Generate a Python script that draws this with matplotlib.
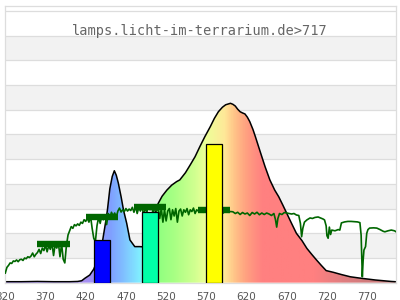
import numpy as np
import matplotlib
matplotlib.use("Agg")
import matplotlib.pyplot as plt
from matplotlib.patches import Polygon
from matplotlib.colors import LinearSegmentedColormap, Normalize

# ---- lamp spectrum (black outline, rainbow fill) ----
spec_nm = [320, 340, 360, 380, 400, 410, 415, 419, 425, 430, 435, 440, 445, 447,
           450, 453, 455.6, 458, 460.5, 464, 467, 471, 475, 481, 487, 492, 497,
           502, 506, 510, 515, 521, 527, 533, 537, 544, 550, 556, 562, 568, 575,
           580, 585, 590, 594, 600, 603, 606, 609, 612, 615, 618, 621, 624, 628,
           631, 637, 643, 649, 655, 660, 665, 670, 676, 682, 689, 695, 701, 707,
           713, 719, 728, 738, 749, 760, 770, 780, 790, 800, 805]
spec_val = [0.04, 0.04, 0.05, 0.04, 0.04, 0.05, 0.08, 0.18, 0.31, 0.55, 0.95, 1.5, 2.5, 2.94,
            3.8, 4.3, 4.53, 4.35, 4.04, 3.48, 2.94, 2.4, 1.73, 1.46, 1.46, 1.45, 1.7,
            2.2, 2.75, 3.2, 3.5, 3.75, 3.95, 4.09, 4.16, 4.45, 4.77, 5.1, 5.51, 5.9, 6.32,
            6.65, 6.92, 7.1, 7.2, 7.26, 7.22, 7.15, 7.02, 6.92, 6.87, 6.83, 6.7, 6.52, 6.2,
            5.91, 5.3, 4.7, 4.16, 3.75, 3.48, 3.15, 2.81, 2.4, 2.0, 1.7, 1.39, 1.15, 0.92,
            0.7, 0.49, 0.42, 0.33, 0.24, 0.19, 0.15, 0.11, 0.08, 0.05, 0.04]

# ---- reference (sun) curve, dark green ----
ref_nm = [320, 322, 324, 326, 328, 330, 332, 334, 336, 338, 340, 342, 344, 346, 348,
          350, 352, 354, 356, 358, 360, 362, 364, 366, 368, 370, 372, 374, 376, 378,
          380, 382, 384, 386, 388, 390, 392, 394, 396, 398, 400, 402, 404, 406, 408,
          410, 412, 414, 416, 418, 420, 422, 424, 426, 428, 430, 432, 434, 436, 438,
          440, 442, 444, 446, 448, 450, 452, 454, 456, 458, 460, 462, 464, 466, 468,
          470, 472, 474, 476, 478, 480, 482, 484, 486, 488, 490, 492, 494, 496, 498,
          500, 502, 504, 506, 508, 510, 512, 514, 516, 518, 520, 522, 524, 526, 528,
          530, 532, 534, 536, 538, 540, 542, 544, 546, 548, 550, 552, 554, 556, 558,
          560, 562, 566, 570, 574, 578, 582, 586, 590, 594, 598, 600, 603, 606, 609,
          612, 615, 618, 621, 624, 627, 630, 633, 636, 639, 642, 645, 648, 651, 654,
          656, 657.5, 659, 661, 664, 667, 670, 673, 676, 679, 682, 685, 687, 688.5, 690,
          692, 695, 697, 699, 702, 705, 709, 712, 715, 717, 719, 720, 721.5, 723, 724.5,
          726, 730, 734, 736, 738, 742, 746, 750, 754, 758, 761, 762.5, 764, 765, 766,
          768, 769.5, 771, 773, 778, 782, 786, 790, 792, 796, 800, 804, 806]
ref_val = [0.39, 0.62, 0.70, 0.80, 0.78, 0.88, 0.86, 0.92, 0.85, 0.93, 0.95, 0.90, 1.00, 0.97, 1.05,
           1.02, 1.08, 1.20, 1.05, 1.15, 1.22, 1.35, 1.18, 1.40, 1.30, 1.52, 1.25, 1.50, 1.35, 1.60,
           1.10, 1.55, 1.40, 1.62, 1.05, 1.58, 0.95, 0.80, 1.50, 1.93, 2.10, 2.27, 2.20, 2.35, 2.30,
           2.38, 2.32, 2.45, 2.40, 2.55, 2.48, 2.62, 2.45, 2.70, 2.20, 1.80, 1.66, 2.30, 2.65, 2.40,
           2.72, 2.55, 2.75, 2.35, 2.80, 2.60, 2.85, 2.70, 2.82, 2.65, 2.90, 3.02, 2.86, 2.95, 2.88,
           3.00, 2.90, 2.98, 2.92, 3.05, 2.85, 3.10, 2.80, 3.05, 2.90, 3.12, 2.70, 3.05, 2.85, 3.10,
           2.95, 3.08, 2.75, 3.10, 2.90, 3.05, 2.60, 3.00, 2.45, 2.95, 2.50, 2.90, 3.00, 2.55, 2.95,
           2.70, 3.00, 2.45, 2.90, 2.98, 2.70, 2.95, 2.85, 3.00, 2.75, 2.95, 2.88, 3.02, 2.80, 2.95,
           2.90, 2.95, 2.85, 2.95, 2.88, 2.92, 2.85, 2.95, 2.80, 2.90, 2.85, 2.88, 2.87, 2.80, 2.85,
           2.76, 2.84, 2.78, 2.82, 2.72, 2.84, 2.78, 2.85, 2.75, 2.82, 2.76, 2.82, 2.78, 2.72, 2.80,
           2.55, 2.25, 2.60, 2.80, 2.76, 2.84, 2.82, 2.80, 2.78, 2.80, 2.74, 2.72, 2.40, 1.86, 2.20,
           2.45, 2.54, 2.58, 2.62, 2.60, 2.64, 2.66, 2.62, 2.58, 2.54, 2.30, 1.90, 1.80, 2.25, 1.95,
           2.13, 2.10, 2.15, 2.13, 2.42, 2.46, 2.48, 2.48, 2.47, 2.46, 2.43, 1.93, 0.24, 0.90, 1.32,
           1.46, 2.00, 2.15, 2.21, 2.22, 2.21, 2.15, 2.08, 2.06, 2.10, 2.13, 2.10, 2.06]

# band averages of the reference curve (thick dark green marks)
band_center = [380, 440, 500, 580]
band_level = [1.57, 2.65, 3.06, 2.93]

# lamp band bars
bar_center = [440, 500, 580]
bar_height = [1.72, 2.87, 5.62]
bar_color = ['#0000ff', '#00ffa8', '#ffff00']

xticks = [320, 370, 420, 470, 520, 570, 620, 670, 720, 770]
title = "lamps.licht-im-terrarium.de>717"

x_min, x_max = 320, 805.5
y_max = 11.21

# rainbow colours along the wavelength axis
grad_nm = [320, 420, 430, 451, 465, 487, 495, 510, 530, 555, 570, 593, 605,
           620, 640, 705, 740, 805.5]
grad_col = ['#a080ff', '#a890f0', '#9a90f8', '#7fa0ff', '#80bcff', '#80eeff', '#88f8d0',
            '#90ff80', '#a8ff84', '#d0ff90', '#eeff99', '#ffe898', '#ffc488',
            '#ffa080', '#ff8080', '#ff8080', '#e07e80', '#c07878']

fig = plt.figure(figsize=(4, 3), dpi=100, facecolor='w')
ax = fig.add_axes([5.3 / 400, 17.3 / 300, 390.4 / 400, 277.0 / 300])
ax.set_xlim(x_min, x_max)
ax.set_ylim(0, y_max)

# alternating bands + grid lines
for k in range(1, 11, 2):
    ax.axhspan(k, k + 1, color='#f2f2f2', lw=0, zorder=0)
for k in range(1, 12):
    ax.axhline(k, color='#dddddd', lw=0.9, zorder=0.5)

# gradient fill clipped to the spectrum
verts = [(spec_nm[0], 0)] + list(zip(spec_nm, spec_val)) + [(spec_nm[-1], 0)]
shape = Polygon(verts, facecolor='none', edgecolor='none')
ax.add_patch(shape)
pos = [(v - x_min) / (x_max - x_min) for v in grad_nm]
cmap = LinearSegmentedColormap.from_list('spec', list(zip(pos, grad_col)))
grad = np.linspace(x_min, x_max, 800).reshape(1, -1)
im = ax.imshow(grad, extent=(x_min, x_max, 0, y_max), aspect='auto', cmap=cmap,
               norm=Normalize(x_min, x_max), origin='lower', zorder=1)
im.set_clip_path(shape)
ax.plot(spec_nm, spec_val, color='black', lw=1.1, zorder=2)

# reference curve and band marks
ax.plot(ref_nm, ref_val, color='#006600', lw=1.2, zorder=3)
ax.hlines(band_level, [c - 20 for c in band_center], [c + 20 for c in band_center],
          color='#006600', lw=4.6, zorder=3)

ax.bar(bar_center, bar_height, width=20, color=bar_color, edgecolor='black',
       lw=0.9, zorder=4)

ax.set_xticks(xticks)
ax.set_xticklabels([str(t) for t in xticks])
ax.set_yticks([])
ax.tick_params(axis='x', length=0, pad=6.5, labelsize=7.5, labelcolor='#555555')
for s in ax.spines.values():
    s.set_color('#dddddd')
    s.set_linewidth(0.9)

fig.text(0.5, 1 - 31.5 / 300, title, ha='center', va='center',
         family='DejaVu Sans Mono', fontsize=9.8, color='#666666')

fig.savefig('out.png', dpi=100)
